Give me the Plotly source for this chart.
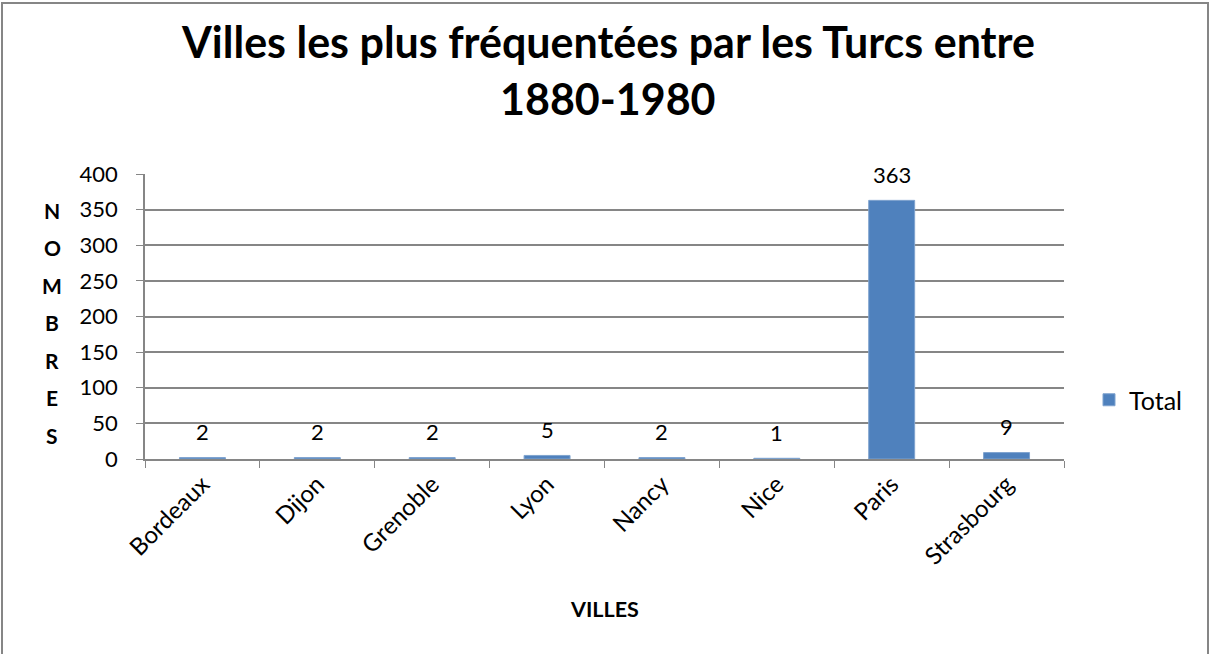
import plotly.graph_objects as go

# data
villes = ['Bordeaux', 'Dijon', 'Grenoble', 'Lyon', 'Nancy', 'Nice', 'Paris', 'Strasbourg']
totaux = [2, 2, 2, 5, 2, 1, 363, 9]
y_ticks = [0, 50, 100, 150, 200, 250, 300, 350, 400]
y_title_letters = list('NOMBRES')
title_lines = ['Villes les plus fréquentées par les Turcs entre', '1880-1980']

W, H = 1210, 654
L, R, T, B = 145, 146, 174, 195
pw, ph = W - L - R, H - T - B
FONT = 'Lato'
GREY = '#868686'


def px_x(x):
    return (x - L) / pw


def px_y(y):
    return (H - B - y) / ph


fig = go.Figure()
fig.add_trace(go.Bar(
    x=villes, y=totaux, name='Total',
    marker=dict(color='#4F81BD', line=dict(color='#7FA3CF', width=1)),
))

# value labels above each bar
for v, t in zip(villes, totaux):
    fig.add_annotation(x=v, y=t, text=str(t), showarrow=False,
                       yanchor='middle', yshift=26, font=dict(size=22))

fig.update_layout(
    width=W, height=H,
    margin=dict(l=L, r=R, t=T, b=B),
    paper_bgcolor='white', plot_bgcolor='white',
    font=dict(family=FONT, size=22, color='black'),
    bargap=0.6,
    showlegend=True,
    legend=dict(x=px_x(1089), y=px_y(400), yanchor='middle', xanchor='left',
                font=dict(size=25), itemwidth=30, bgcolor='rgba(0,0,0,0)'),
)

fig.update_xaxes(
    showline=True, linecolor=GREY, linewidth=1.5,
    ticks='outside', tickson='boundaries', ticklen=7, tickcolor=GREY,
    tickangle=-45, tickfont=dict(size=24),
)
fig.update_yaxes(
    range=[0, 400], tickvals=y_ticks,
    showline=True, linecolor=GREY, linewidth=1.5,
    ticks='outside', ticklen=7, tickcolor=GREY, ticklabelstandoff=14,
    showgrid=True, gridcolor=GREY, gridwidth=1.5,
    tickfont=dict(size=22), zeroline=False,
)

# title, two lines
for txt, yy in zip(title_lines, [41, 98]):
    fig.add_annotation(text=f'<b>{txt}</b>', xref='paper', yref='paper',
                       x=px_x(608), y=px_y(yy), showarrow=False,
                       xanchor='center', yanchor='middle', font=dict(size=43))

# x axis title
fig.add_annotation(text='<b>VILLES</b>', xref='paper', yref='paper',
                   x=px_x(604), y=px_y(609), showarrow=False,
                   xanchor='center', yanchor='middle', font=dict(size=21.5))

# vertical stacked y-axis title
for i, ch in enumerate(y_title_letters):
    fig.add_annotation(text=f'<b>{ch}</b>', xref='paper', yref='paper',
                       x=px_x(52), y=px_y(210 + 37.5 * i),
                       showarrow=False, xanchor='center', yanchor='middle',
                       font=dict(size=21))

# chart border
fig.add_shape(type='rect', xref='paper', yref='paper',
              x0=px_x(2), x1=px_x(1208), y0=px_y(660), y1=px_y(3),
              line=dict(color=GREY, width=2), fillcolor='rgba(0,0,0,0)', layer='below')

fig.write_html('out.html', config={'displayModeBar': False},
               post_script="document.body.style.margin='0';")
